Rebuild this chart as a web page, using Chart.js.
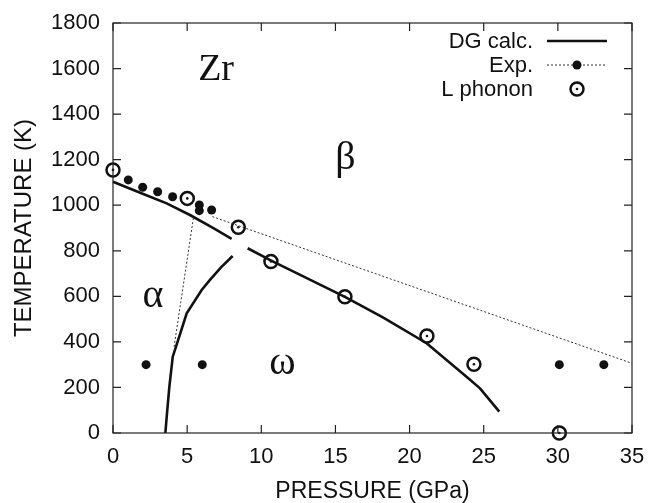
<!DOCTYPE html>
<html>
<head>
<meta charset="utf-8">
<script src="https://cdn.jsdelivr.net/npm/chart.js@4/dist/chart.umd.min.js"></script>
<style>
  html, body { margin: 0; padding: 0; background: #fff; }
  #wrap { width: 649px; height: 503px; }
</style>
</head>
<body>
<div id="wrap"><canvas id="chart" width="649" height="503"></canvas></div>
<script>
// ── axis ticks ──
const pressureTicks = [0, 5, 10, 15, 20, 25, 30, 35];
const tempTicks = [0, 200, 400, 600, 800, 1000, 1200, 1400, 1600, 1800];

// ── DG calc. phase boundaries (pressure GPa / temperature K) ──
const dgAlphaBetaP = [0, 2.04, 3.62, 5.19, 6.77, 8.0];
const dgAlphaBetaT = [1103, 1049, 1008, 957, 899, 852];

const dgAlphaOmegaP = [3.53, 3.66, 3.80, 4.03, 4.5, 4.97, 5.98, 6.54, 7.3, 8.07];
const dgAlphaOmegaT = [0, 100, 203, 335, 430, 525, 628, 672, 728, 777];

const dgOmegaBetaP = [9.08, 10.7, 13.0, 15.64, 18.2, 21.15, 23.96, 24.75, 26.05];
const dgOmegaBetaT = [811, 756, 682, 598, 508, 394, 240, 196, 94];

// ── experimental boundaries (dotted) ──
const expBoundaryP = [6.7, 35];
const expBoundaryT = [950, 306];
const expAlphaOmegaP = [5.42, 4.1];
const expAlphaOmegaT = [943, 370];

// ── experimental points ──
const expP = [1.03, 2.0, 3.01, 4.02, 5.82, 5.82, 6.65, 2.23, 6.02, 30.1, 33.1];
const expT = [1111, 1079, 1059, 1037, 1001, 976, 979, 300, 300, 300, 300];

// ── L phonon points ──
const phononP = [0, 5.01, 8.45, 10.65, 15.64, 21.17, 24.34, 30.1];
const phononT = [1155, 1030, 903, 753, 598, 426, 302, 0];

// ── phase labels ──
const phaseLabels = ['Zr', 'β', 'α', 'ω'];
const phaseLabelP = [6.95, 15.67, 2.70, 11.43];
const phaseLabelT = [1550, 1161, 553, 259];

const pts = (xs, ys) => xs.map((x, i) => ({ x, y: ys[i] }));

const SANS = '"Liberation Sans", Arial, sans-serif';
const SERIF = '"Liberation Serif", "Times New Roman", serif';
const INK = '#111';

const lineSet = (data) => ({
  data,
  showLine: true,
  borderColor: INK,
  borderWidth: 2.6,
  pointRadius: 0,
  fill: false,
  tension: 0,
  clip: false,
});

const dottedSet = (data) => ({
  data,
  showLine: true,
  borderColor: '#333',
  borderWidth: 1,
  borderDash: [2, 2],
  pointRadius: 0,
  fill: false,
  clip: false,
});

// ── frame, inward ticks, labels, legend ──
const decorations = {
  id: 'decorations',
  afterDatasetsDraw(chart) {
    const { ctx, chartArea: a, scales } = chart;
    const xs = scales.x, ys = scales.y;
    ctx.save();

    // box and mirrored inward ticks
    ctx.strokeStyle = '#222';
    ctx.lineWidth = 1.2;
    ctx.strokeRect(a.left, a.top, a.right - a.left, a.bottom - a.top);
    ctx.beginPath();
    pressureTicks.forEach(v => {
      const px = xs.getPixelForValue(v);
      ctx.moveTo(px, a.bottom); ctx.lineTo(px, a.bottom - 8);
      ctx.moveTo(px, a.top); ctx.lineTo(px, a.top + 8);
    });
    tempTicks.forEach(v => {
      const py = ys.getPixelForValue(v);
      ctx.moveTo(a.left, py); ctx.lineTo(a.left + 8, py);
      ctx.moveTo(a.right, py); ctx.lineTo(a.right - 8, py);
    });
    ctx.stroke();

    // phase labels
    ctx.fillStyle = INK;
    ctx.textAlign = 'center';
    ctx.textBaseline = 'alphabetic';
    phaseLabels.forEach((t, i) => {
      ctx.font = (i === 0 ? '38px ' : '40px ') + SERIF;
      ctx.fillText(t, xs.getPixelForValue(phaseLabelP[i]), ys.getPixelForValue(phaseLabelT[i]));
    });

    // legend
    const tx = 533, x0 = 547, x1 = 607, xm = 577;
    const rows = [41, 65, 89];
    ctx.font = '22px ' + SANS;
    ctx.textAlign = 'right';
    ctx.textBaseline = 'middle';
    ['DG calc.', 'Exp.', 'L phonon'].forEach((t, i) => ctx.fillText(t, tx, rows[i] + 1));

    ctx.strokeStyle = INK;
    ctx.lineWidth = 2.6;
    ctx.beginPath(); ctx.moveTo(x0, rows[0]); ctx.lineTo(x1, rows[0]); ctx.stroke();

    ctx.strokeStyle = '#333';
    ctx.lineWidth = 1;
    ctx.setLineDash([2, 2]);
    ctx.beginPath(); ctx.moveTo(x0, rows[1]); ctx.lineTo(x1, rows[1]); ctx.stroke();
    ctx.setLineDash([]);
    ctx.fillStyle = INK;
    ctx.beginPath(); ctx.arc(xm, rows[1], 4.5, 0, Math.PI * 2); ctx.fill();

    ctx.strokeStyle = INK;
    ctx.lineWidth = 2.5;
    ctx.beginPath(); ctx.arc(xm, rows[2], 6.5, 0, Math.PI * 2); ctx.stroke();
    ctx.beginPath(); ctx.arc(xm, rows[2], 1.3, 0, Math.PI * 2); ctx.fill();

    ctx.restore();
  },
};

new Chart(document.getElementById('chart'), {
  type: 'scatter',
  data: {
    datasets: [
      dottedSet(pts(expBoundaryP, expBoundaryT)),
      dottedSet(pts(expAlphaOmegaP, expAlphaOmegaT)),
      lineSet(pts(dgAlphaBetaP, dgAlphaBetaT)),
      lineSet(pts(dgAlphaOmegaP, dgAlphaOmegaT)),
      lineSet(pts(dgOmegaBetaP, dgOmegaBetaT)),
      {
        data: pts(expP, expT),
        pointRadius: 4.5,
        pointBackgroundColor: INK,
        pointBorderWidth: 0,
        clip: false,
      },
      {
        data: pts(phononP, phononT),
        pointRadius: 6.5,
        pointBackgroundColor: 'rgba(255,255,255,0)',
        pointBorderColor: INK,
        pointBorderWidth: 2.5,
        clip: false,
      },
      {
        data: pts(phononP, phononT),
        pointRadius: 1.3,
        pointBackgroundColor: INK,
        pointBorderWidth: 0,
        clip: false,
      },
    ],
  },
  options: {
    responsive: false,
    animation: false,
    events: [],
    layout: { padding: { left: 0, right: 17, top: 23, bottom: 0 } },
    plugins: { legend: { display: false }, tooltip: { enabled: false } },
    scales: {
      x: {
        type: 'linear',
        min: 0,
        max: 35,
        afterFit: s => { s.height = 70; s.paddingLeft = 0; s.paddingRight = 0; },
        afterBuildTicks: s => { s.ticks = pressureTicks.map(v => ({ value: v })); },
        grid: { display: false },
        border: { display: false },
        ticks: { color: INK, padding: 3, maxRotation: 0, callback: v => String(v), font: { family: SANS, size: 22 } },
        title: {
          display: true,
          text: 'PRESSURE (GPa)',
          color: INK,
          font: { family: SANS, size: 23, lineHeight: 1 },
          padding: { top: 0, bottom: 0 },
        },
      },
      y: {
        type: 'linear',
        min: 0,
        max: 1800,
        afterFit: s => { s.width = 113; s.paddingTop = 0; s.paddingBottom = 0; },
        afterBuildTicks: s => { s.ticks = tempTicks.map(v => ({ value: v })); },
        grid: { display: false },
        border: { display: false },
        ticks: { color: INK, padding: 5, callback: v => String(v), font: { family: SANS, size: 22 } },
        title: {
          display: true,
          text: 'TEMPERATURE (K)',
          color: INK,
          font: { family: SANS, size: 24, lineHeight: 1 },
          padding: { top: 12, bottom: 0 },
        },
      },
    },
  },
  plugins: [decorations],
});
</script>
</body>
</html>
